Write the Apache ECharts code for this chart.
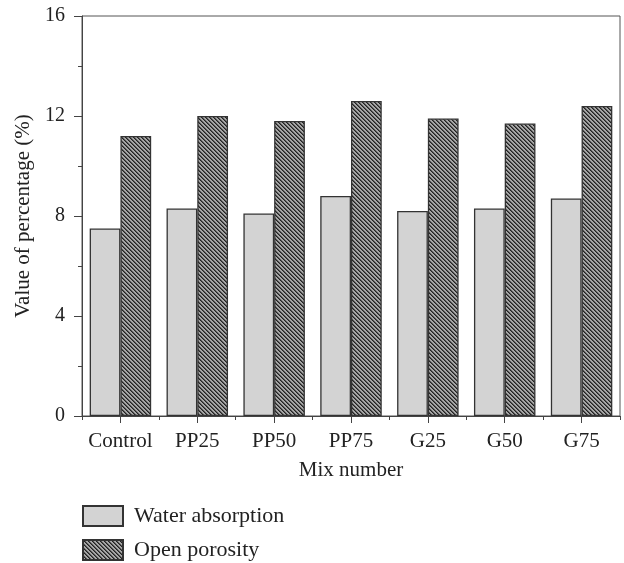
<!DOCTYPE html>
<html>
<head>
<meta charset="utf-8">
<script src="https://cdn.jsdelivr.net/npm/echarts@6/dist/echarts.min.js"></script>
<style>
html,body{margin:0;padding:0;background:#fff;}
#chart{width:624px;height:563px;}
</style>
</head>
<body>
<div id="chart"></div>
<script>
var categories = ['Control', 'PP25', 'PP50', 'PP75', 'G25', 'G50', 'G75'];
var waterAbsorption = [7.5, 8.3, 8.1, 8.8, 8.2, 8.3, 8.7];
var openPorosity = [11.2, 12.0, 11.8, 12.6, 11.9, 11.7, 12.4];
var seriesNames = ['Water absorption', 'Open porosity'];
var yTicks = [0, 4, 8, 12, 16];

function hatch() {
  var c = document.createElement('canvas');
  c.width = 4; c.height = 4;
  var ctx = c.getContext('2d');
  ctx.fillStyle = '#a6a6a6';
  ctx.fillRect(0, 0, 4, 4);
  for (var i = 0; i < 4; i++) {
    ctx.fillStyle = '#222222';
    ctx.fillRect(i, i, 1, 1);
    ctx.fillStyle = '#555555';
    ctx.fillRect((i + 1) % 4, i, 1, 1);
  }
  return c;
}

var FONT = 'Liberation Serif';
var legendBase = {
  orient: 'vertical', left: 82, padding: 0, itemWidth: 40, itemHeight: 20, icon: 'rect',
  textStyle: {fontFamily: FONT, fontSize: 22, color: '#222', padding: [0, 0, 0, 6]}
};
var chart = echarts.init(document.getElementById('chart'), null, {renderer: 'canvas'});
chart.setOption({
  animation: false,
  backgroundColor: '#fff',
  textStyle: {fontFamily: FONT, color: '#222'},
  grid: {left: 82, right: 4, top: 16, bottom: 147, show: true, borderColor: '#555', borderWidth: 1},
  legend: [
    Object.assign({}, legendBase, {top: 505, data: [seriesNames[0]]}),
    Object.assign({}, legendBase, {top: 539, data: [seriesNames[1]]})
  ],
  xAxis: [{
    type: 'category', data: categories,
    name: 'Mix number', nameLocation: 'middle', nameGap: 44,
    nameTextStyle: {fontFamily: FONT, fontSize: 21, color: '#222'},
    axisLine: {show: true, lineStyle: {color: '#444', width: 1}},
    axisTick: {show: true, alignWithLabel: true, length: 7, inside: false, lineStyle: {color: '#444'}},
    axisLabel: {show: true, interval: 0, fontFamily: FONT, fontSize: 21, color: '#222', margin: 15}
  }, {
    type: 'category', data: categories, position: 'bottom', gridIndex: 0,
    axisLine: {show: false},
    axisTick: {show: true, length: 4, interval: 0, lineStyle: {color: '#444'}},
    axisLabel: {show: false}
  }],
  yAxis: {
    type: 'value', min: yTicks[0], max: yTicks[yTicks.length - 1], interval: 4,
    name: 'Value of percentage (%)', nameLocation: 'middle', nameGap: 48,
    nameTextStyle: {fontFamily: FONT, fontSize: 21, color: '#222'},
    axisLine: {show: true, lineStyle: {color: '#444', width: 1}},
    axisTick: {show: true, length: 8, lineStyle: {color: '#444'}},
    minorTick: {show: true, splitNumber: 2, length: 4, lineStyle: {color: '#444'}},
    splitLine: {show: false},
    axisLabel: {fontFamily: FONT, fontSize: 20, color: '#222', margin: 17}
  },
  series: [{
    name: seriesNames[0], type: 'bar', data: waterAbsorption,
    barWidth: '40%', barGap: '0%',
    itemStyle: {color: '#d3d3d3', borderColor: '#333', borderWidth: 1.3}
  }, {
    name: seriesNames[1], type: 'bar', data: openPorosity,
    barWidth: '40%', barGap: '0%',
    itemStyle: {color: {image: hatch(), repeat: 'repeat'}, borderColor: '#333', borderWidth: 1.3}
  }]
});
</script>
</body>
</html>
